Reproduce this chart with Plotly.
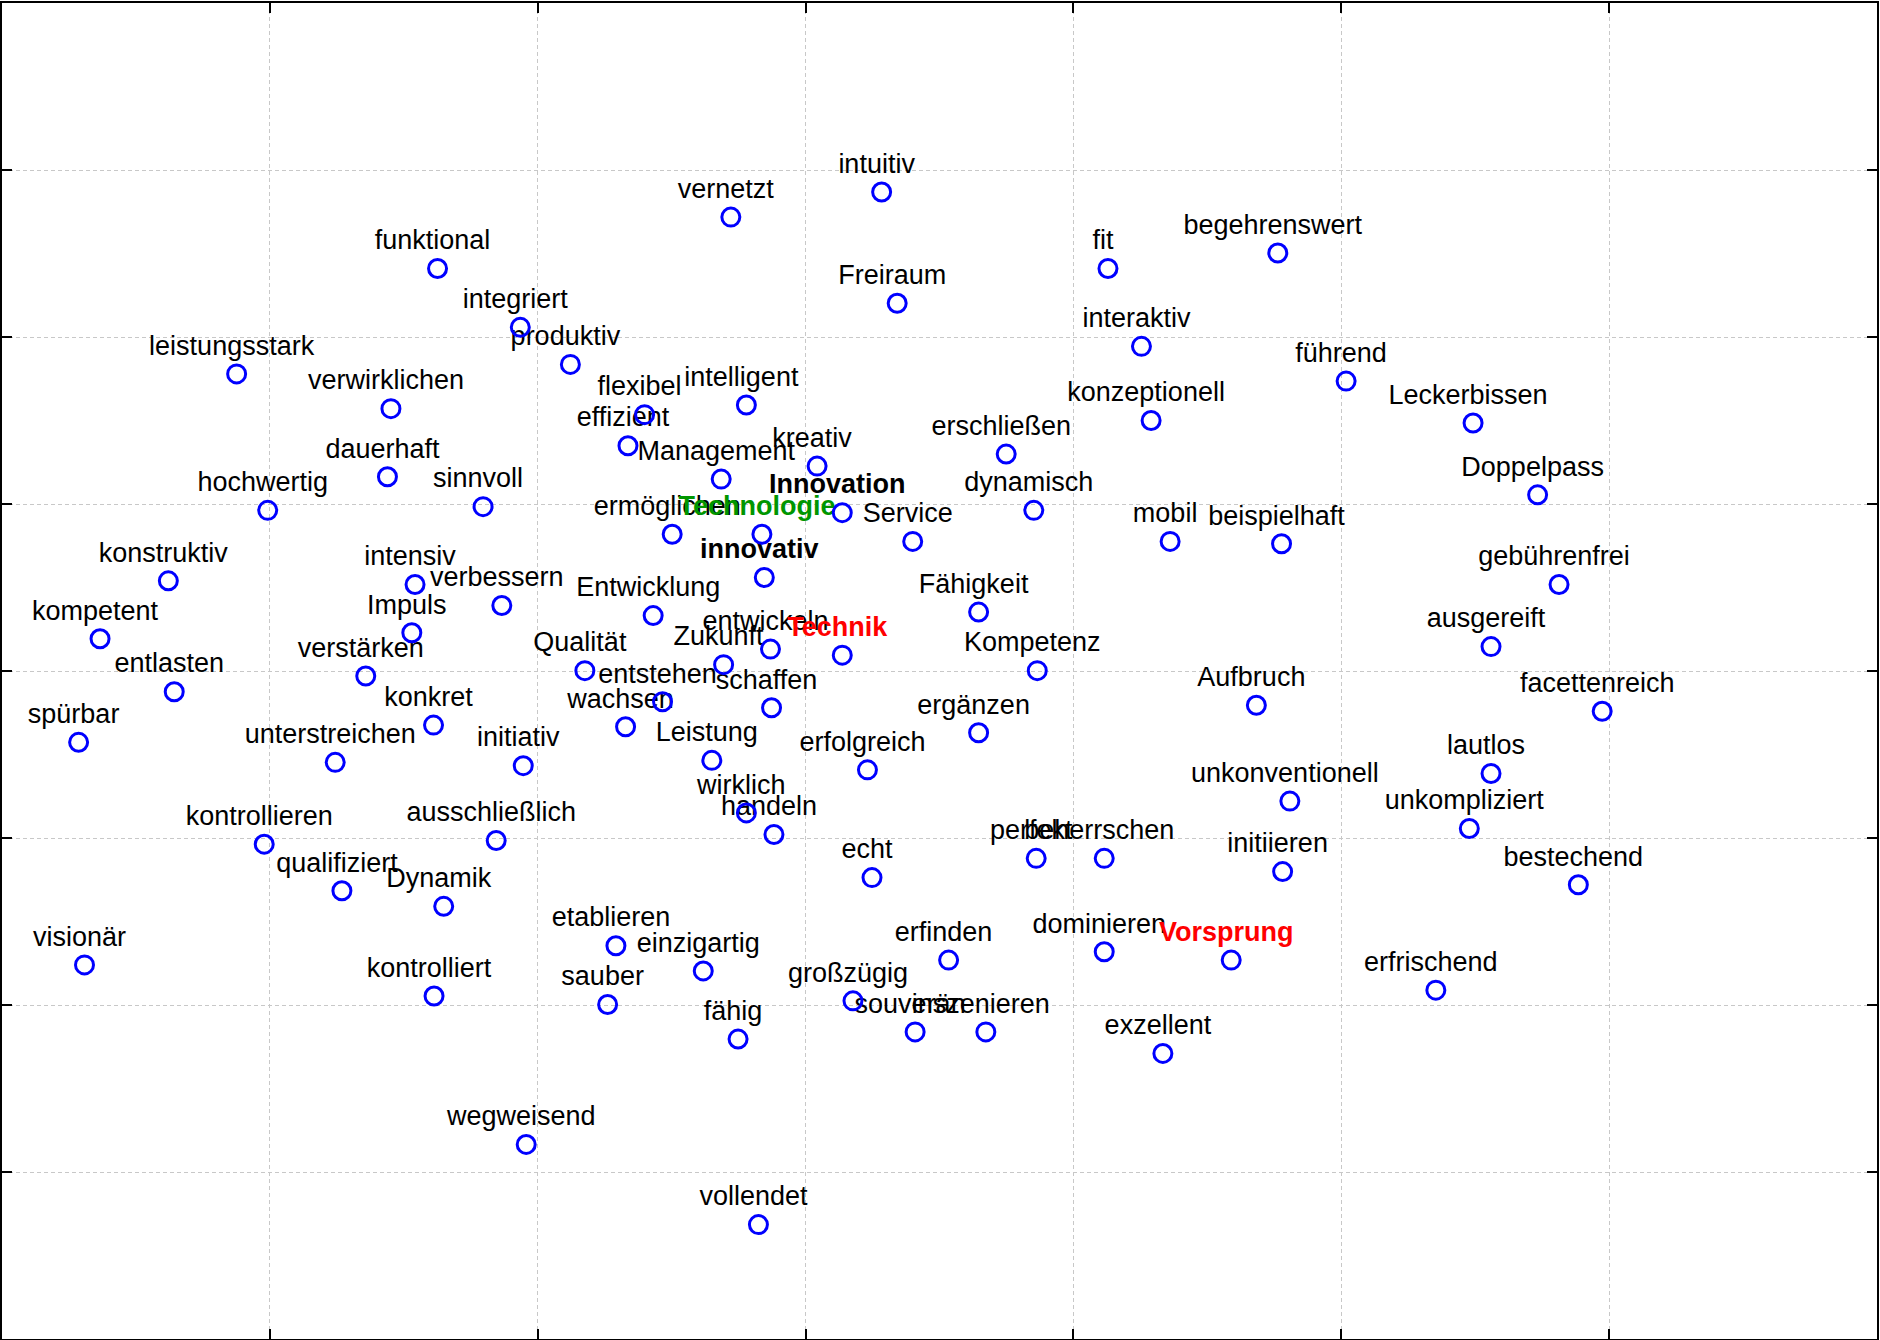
import plotly.graph_objects as go

# ---------------- data ----------------
labels = [
    "intuitiv", "vernetzt", "funktional", "fit", "begehrenswert", "Freiraum",
    "integriert", "produktiv", "interaktiv", "leistungsstark", "verwirklichen",
    "führend", "intelligent", "flexibel", "effizient", "konzeptionell",
    "Leckerbissen", "kreativ", "erschließen", "Management", "dauerhaft",
    "sinnvoll", "hochwertig", "Doppelpass", "Innovation", "dynamisch", "Service",
    "ermöglichen", "Technologie", "mobil", "beispielhaft", "innovativ",
    "konstruktiv", "intensiv", "verbessern", "gebührenfrei", "Entwicklung",
    "Fähigkeit", "Impuls", "kompetent", "entwickeln", "Technik", "ausgereift",
    "Zukunft", "Qualität", "Kompetenz", "verstärken", "entstehen", "schaffen",
    "entlasten", "Aufbruch", "facettenreich", "spürbar", "konkret", "wachsen",
    "ergänzen", "unterstreichen", "initiativ", "Leistung", "erfolgreich",
    "lautlos", "unkonventionell", "wirklich", "handeln", "unkompliziert",
    "kontrollieren", "ausschließlich", "perfekt", "beherrschen", "initiieren",
    "bestechend", "echt", "qualifiziert", "Dynamik", "visionär", "etablieren",
    "einzigartig", "erfinden", "dominieren", "Vorsprung", "erfrischend",
    "kontrolliert", "sauber", "großzügig", "souverän", "inszenieren", "fähig",
    "exzellent", "wegweisend", "vollendet",
]

x_values = [
    3.284, 2.721, 1.626, 4.129, 4.763, 3.342,
    1.935, 2.122, 4.254, 0.876, 1.452,
    5.018, 2.779, 2.399, 2.337, 4.290,
    5.492, 3.043, 3.749, 2.685, 1.439,
    1.796, 0.992, 5.733, 3.137, 3.852, 3.400,
    2.502, 2.837, 4.361, 4.777, 2.846,
    0.621, 1.542, 1.866, 5.813, 2.431,
    3.646, 1.530, 0.366, 2.869, 3.137, 5.559,
    2.694, 2.176, 3.865, 1.358, 2.466, 2.873,
    0.643, 4.683, 5.974, 0.286, 1.611, 2.328,
    3.646, 1.244, 1.946, 2.650, 3.231,
    5.559, 4.808, 2.779, 2.882, 5.478,
    0.979, 1.845, 3.861, 4.115, 4.781,
    5.885, 3.248, 1.269, 1.649, 0.308, 2.292,
    2.618, 3.534, 4.115, 4.589, 5.353,
    1.613, 2.261, 3.177, 3.409, 3.673, 2.748,
    4.334, 1.957, 2.824,
]

y_values = [
    6.868, 6.718, 6.410, 6.410, 6.503, 6.202,
    6.058, 5.836, 5.944, 5.779, 5.571,
    5.736, 5.593, 5.535, 5.349, 5.500,
    5.485, 5.227, 5.299, 5.149, 5.163,
    4.984, 4.962, 5.055, 4.948, 4.962, 4.776,
    4.819, 4.819, 4.776, 4.762, 4.560,
    4.540, 4.518, 4.392, 4.518, 4.332,
    4.353, 4.229, 4.193, 4.131, 4.095, 4.146,
    4.038, 4.002, 4.002, 3.970, 3.816, 3.780,
    3.876, 3.795, 3.759, 3.573, 3.676, 3.666,
    3.630, 3.453, 3.433, 3.465, 3.408,
    3.386, 3.221, 3.150, 3.021, 3.057,
    2.963, 2.985, 2.878, 2.878, 2.799,
    2.720, 2.763, 2.684, 2.591, 2.240, 2.355,
    2.204, 2.269, 2.319, 2.269, 2.089,
    2.054, 2.003, 2.025, 1.839, 1.839, 1.796,
    1.710, 1.165, 0.685,
]

# highlighted words: (colour, bold)
highlight = {
    "Innovation": ("#000000", True),
    "innovativ": ("#000000", True),
    "Technologie": ("#009600", True),
    "Technik": ("#ff0000", True),
    "Vorsprung": ("#ff0000", True),
}

x_ticks = [1, 2, 3, 4, 5, 6]
y_ticks = [1, 2, 3, 4, 5, 6, 7]
x_range = [0, 7]
y_range = [0, 8]

# ---------------- styling ----------------
W, H = 1880, 1340
M = dict(l=2, r=1, t=2, b=1)
PW = W - M["l"] - M["r"]
PH = H - M["t"] - M["b"]
FONT = "Liberation Sans, Arial, Helvetica, sans-serif"
FS = 27
TEXT_DX_PX = -5      # label centre relative to marker centre (pixels)
TEXT_DY_PX = 26      # label anchor above marker centre (pixels)

text_colors = [highlight.get(l, ("#000000", False))[0] for l in labels]
text_strings = [("<b>%s</b>" % l) if highlight.get(l, ("", False))[1] else l for l in labels]

# label offset converted from pixels to axis units
off_x = TEXT_DX_PX * (x_range[1] - x_range[0]) / PW
off_y = TEXT_DY_PX * (y_range[1] - y_range[0]) / PH
label_x = [v + off_x for v in x_values]
label_y = [v + off_y for v in y_values]

fig = go.Figure()

fig.add_trace(go.Scatter(
    x=label_x, y=label_y, mode="text", text=text_strings,
    textposition="middle center",
    textfont=dict(family=FONT, size=FS, color=text_colors),
    hoverinfo="skip", showlegend=False,
))

fig.add_trace(go.Scatter(
    x=x_values, y=y_values, mode="markers",
    marker=dict(symbol="circle-open", size=18, color="#0000ff",
                line=dict(width=3, color="#0000ff")),
    showlegend=False,
))

axis_common = dict(
    showgrid=True, gridcolor="#c8c8c8", gridwidth=1, griddash="4px,3px",
    zeroline=False, showline=True, linecolor="#000000", linewidth=2,
    mirror="allticks", ticks="inside", ticklen=10, tickwidth=2,
    tickcolor="#000000", showticklabels=False,
)

fig.update_layout(
    width=W, height=H, margin=dict(**M, pad=0),
    paper_bgcolor="white", plot_bgcolor="white",
    showlegend=False,
    xaxis=dict(range=x_range, tickvals=x_ticks, **axis_common),
    yaxis=dict(range=y_range, tickvals=y_ticks, **axis_common),
)

fig.write_html("out.html", config={"displayModeBar": False},
               post_script="document.body.style.margin='0';document.body.style.overflow='hidden';")
